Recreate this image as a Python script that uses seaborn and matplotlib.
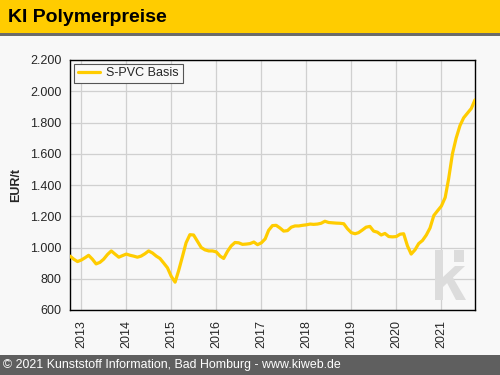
import numpy as np
import pandas as pd
import matplotlib
matplotlib.use("Agg")
import matplotlib.pyplot as plt
import matplotlib.dates as mdates
from matplotlib.ticker import FuncFormatter
from matplotlib.patches import Rectangle, Polygon
import seaborn as sns

# monthly S-PVC prices, EUR/t, Oct 2012 - Oct 2021
start_month = "2012-10-01"
spvc_values = [
    945, 925, 910, 920, 935, 950, 925, 895, 905, 925, 955, 978,
    958, 938, 948, 958, 950, 945, 938, 945, 960, 978, 965, 945,
    930, 900, 870, 815, 778, 850, 940, 1030, 1082, 1080, 1040, 1000,
    985, 978, 978, 972, 945, 930, 975, 1010, 1032, 1030, 1020, 1022,
    1025, 1035, 1018, 1030, 1055, 1110, 1140, 1142, 1125, 1105, 1108, 1130,
    1138, 1138, 1142, 1145, 1150, 1148, 1150, 1155, 1168, 1160, 1158, 1156,
    1155, 1152, 1120, 1095, 1088, 1095, 1112, 1130, 1135, 1105, 1098, 1080,
    1090, 1070, 1068, 1070, 1085, 1088, 1010, 958, 985, 1025, 1045, 1080,
    1125, 1205, 1235, 1265, 1320, 1440, 1600, 1700, 1780, 1830, 1860, 1890,
    1945,
]
year_ticks = list(range(2013, 2022))
y_ticks = [600, 800, 1000, 1200, 1400, 1600, 1800, 2000, 2200]
series_name = "S-PVC Basis"

YELLOW = "#ffcc00"
BG = "#f8f8f8"
LOGO = "#dcdcdc"

dates = pd.date_range(start_month, periods=len(spvc_values), freq="MS")
df = pd.DataFrame({"Datum": dates, "Preis": spvc_values, "Serie": series_name})

sns.set_style("white")
plt.rcParams["font.family"] = ["Liberation Sans", "DejaVu Sans"]

fig = plt.figure(figsize=(5, 3.75), dpi=100, facecolor=BG)

# header and footer bars
fig.patches.append(Rectangle((0, 1 - 33 / 375), 1, 33 / 375, transform=fig.transFigure,
                             facecolor=YELLOW, edgecolor="none", zorder=0))
fig.patches.append(Rectangle((0, 1 - 36 / 375), 1, 3 / 375, transform=fig.transFigure,
                             facecolor="#6b6b6b", edgecolor="none", zorder=0))
fig.patches.append(Rectangle((0, 0), 1, 20 / 375, transform=fig.transFigure,
                             facecolor="#5f5f5f", edgecolor="none", zorder=0))
fig.text(8 / 500, 1 - 17 / 375, "KI Polymerpreise", fontsize=14, fontweight="bold",
         va="center", ha="left", color="black")
fig.text(3 / 500, 10 / 375, "© 2021 Kunststoff Information, Bad Homburg - www.kiweb.de",
         fontsize=8.9, color="white", va="center", ha="left")

ax = fig.add_axes([70 / 500, 1 - 310 / 375, 405 / 500, 250 / 375])
ax.set_facecolor(BG)

sns.lineplot(data=df, x="Datum", y="Preis", hue="Serie", palette=[YELLOW],
             linewidth=2.3, ax=ax, zorder=3)

ax.set_xlim(dates[0], dates[-1])
ax.set_ylim(600, 2200)
ax.set_yticks(y_ticks)
ax.yaxis.set_major_formatter(FuncFormatter(lambda v, p: f"{int(v):,}".replace(",", ".")))
ax.set_xticks([pd.Timestamp(f"{y}-01-01") for y in year_ticks])
ax.xaxis.set_major_formatter(mdates.DateFormatter("%Y"))
plt.setp(ax.get_xticklabels(), rotation=90)
ax.tick_params(axis="both", labelsize=9, direction="out", length=4, width=0.8,
               color="black", pad=2)
ax.tick_params(axis="x", pad=3)

ax.grid(True, color="#d0d0d0", linewidth=0.9, zorder=0)
for s in ax.spines.values():
    s.set_color("black")
    s.set_linewidth(1.0)

ax.set_xlabel("")
ax.set_ylabel("EUR/t", fontsize=9, fontweight="bold", labelpad=6)

leg = ax.legend(loc="upper left", fontsize=9, frameon=True, fancybox=False,
                handlelength=1.8, borderpad=0.3, borderaxespad=0.3,
                handletextpad=0.5, framealpha=1)
leg.get_frame().set_edgecolor("#555555")
leg.get_frame().set_facecolor(BG)
leg.get_frame().set_linewidth(0.8)


# kiweb watermark logo, drawn in pixel positions of the axes box
def px(x, y):
    return ((x - 70) / 405, (310 - y) / 250)


logo_shapes = [
    [px(435, 250), px(443, 250), px(443, 300), px(435, 300)],
    [px(454, 250), px(464, 250), px(464, 262), px(454, 262)],
    [px(443, 277), px(455, 266), px(465, 266), px(443, 287)],
    [px(446, 281), px(452, 276), px(466, 300), px(456, 300)],
]
for shape in logo_shapes:
    ax.add_patch(Polygon(shape, closed=True, transform=ax.transAxes,
                         facecolor=LOGO, edgecolor="none", zorder=1))

fig.savefig("out.png", dpi=100, facecolor=BG)
